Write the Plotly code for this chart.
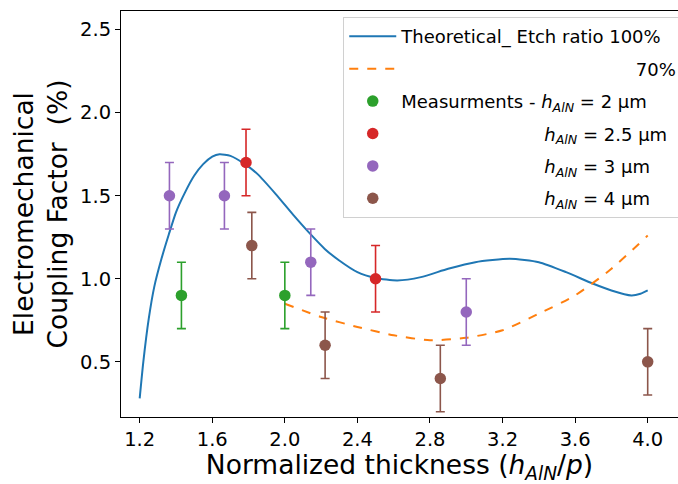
import plotly.graph_objects as go

# Theoretical curves
theo100_x = [1.20, 1.22, 1.25, 1.28, 1.32, 1.36, 1.40, 1.45, 1.50, 1.55, 1.60, 1.64, 1.70, 1.78, 1.85, 1.95,
             2.05, 2.14, 2.22, 2.30, 2.40, 2.50, 2.62, 2.75, 2.90, 3.05, 3.24, 3.40, 3.55, 3.70, 3.80, 3.91, 3.96, 4.00]
theo100_y = [0.28, 0.50, 0.76, 0.95, 1.12, 1.265, 1.40, 1.52, 1.62, 1.69, 1.735, 1.75, 1.74, 1.69, 1.63, 1.51,
             1.38, 1.27, 1.18, 1.11, 1.04, 1.005, 0.99, 1.01, 1.06, 1.10, 1.12, 1.10, 1.04, 0.97, 0.93, 0.90, 0.91, 0.93]
theo70_x = [2.0, 2.2, 2.4, 2.6, 2.8, 3.0, 3.2, 3.4, 3.6, 3.8, 4.0]
theo70_y = [0.85, 0.77, 0.71, 0.66, 0.63, 0.645, 0.69, 0.79, 0.90, 1.06, 1.26]

# Measurements
m2_x = [1.43, 2.0]
m2_y = [0.9, 0.9]
m25_x = [1.786, 2.5]
m25_y = [1.7, 1.0]
m3_x = [1.364, 1.667, 2.143, 3.0]
m3_y = [1.5, 1.5, 1.1, 0.8]
m4_x = [1.818, 2.222, 2.857, 4.0]
m4_y = [1.2, 0.6, 0.4, 0.5]
err = 0.2

NB = "\u00a0"
H = "<i>h</i><sub><i>AlN</i></sub>"

fig = go.Figure()
fig.add_trace(go.Scatter(x=theo100_x, y=theo100_y, mode="lines",
                         line=dict(color="#1f77b4", width=2, shape="spline", smoothing=0.6),
                         name="Theoretical_ Etch ratio 100%", legendgroup="a"))
fig.add_trace(go.Scatter(x=theo70_x, y=theo70_y, mode="lines",
                         line=dict(color="#ff7f0e", width=2, dash="dash", shape="spline", smoothing=0.6),
                         name=NB * 41 + "70%", legendgroup="b"))

def meas(x, y, color, name, g):
    fig.add_trace(go.Scatter(x=x, y=y, mode="markers", marker=dict(color=color, size=11.5),
                             error_y=dict(type="constant", value=err, color=color, thickness=1.6, width=4.5),
                             name=name, legendgroup=g))

meas(m2_x, m2_y, "#2ca02c", "Measurments - " + H + " = 2 µm", "c")
meas(m25_x, m25_y, "#d62728", NB * 25 + H + " = 2.5 µm", "d")
meas(m3_x, m3_y, "#9467bd", NB * 25 + H + " = 3 µm", "e")
meas(m4_x, m4_y, "#8c564b", NB * 25 + H + " = 4 µm", "f")

fig.update_layout(
    width=678, height=484,
    margin=dict(l=121, r=0, t=11, b=67, autoexpand=False),
    paper_bgcolor="white", plot_bgcolor="white",
    font=dict(family="DejaVu Sans", color="black", size=18),
    showlegend=True,
    legend=dict(x=0.399, y=0.985, xanchor="left", yanchor="top",
                bgcolor="white", bordercolor="#d0d0d0", borderwidth=1,
                font=dict(size=18), traceorder="grouped", tracegroupgap=6, itemwidth=47),
    xaxis=dict(range=[1.097, 4.167], tick0=1.2, dtick=0.4, tickformat=".1f",
               showline=True, linecolor="black", linewidth=1, mirror=True,
               ticks="outside", ticklen=5, tickcolor="black", showgrid=False, zeroline=False,
               tickfont=dict(size=19.5),
               title=dict(text="Normalized thickness (" + H + "/<i>p</i>)", font=dict(size=26.5), standoff=6)),
    yaxis=dict(range=[0.168, 2.612], tick0=0.5, dtick=0.5, tickformat=".1f",
               showline=True, linecolor="black", linewidth=1, mirror=False,
               ticks="outside", ticklen=5, tickcolor="black", showgrid=False, zeroline=False,
               tickfont=dict(size=19.5),
               title=dict(text="Electromechanical<br>Coupling Factor  (%)", font=dict(size=26.5), standoff=4)),
)

fig.write_html("out.html", config={"displayModeBar": False},
               post_script="document.body.style.margin='0';document.body.style.overflow='hidden';")
